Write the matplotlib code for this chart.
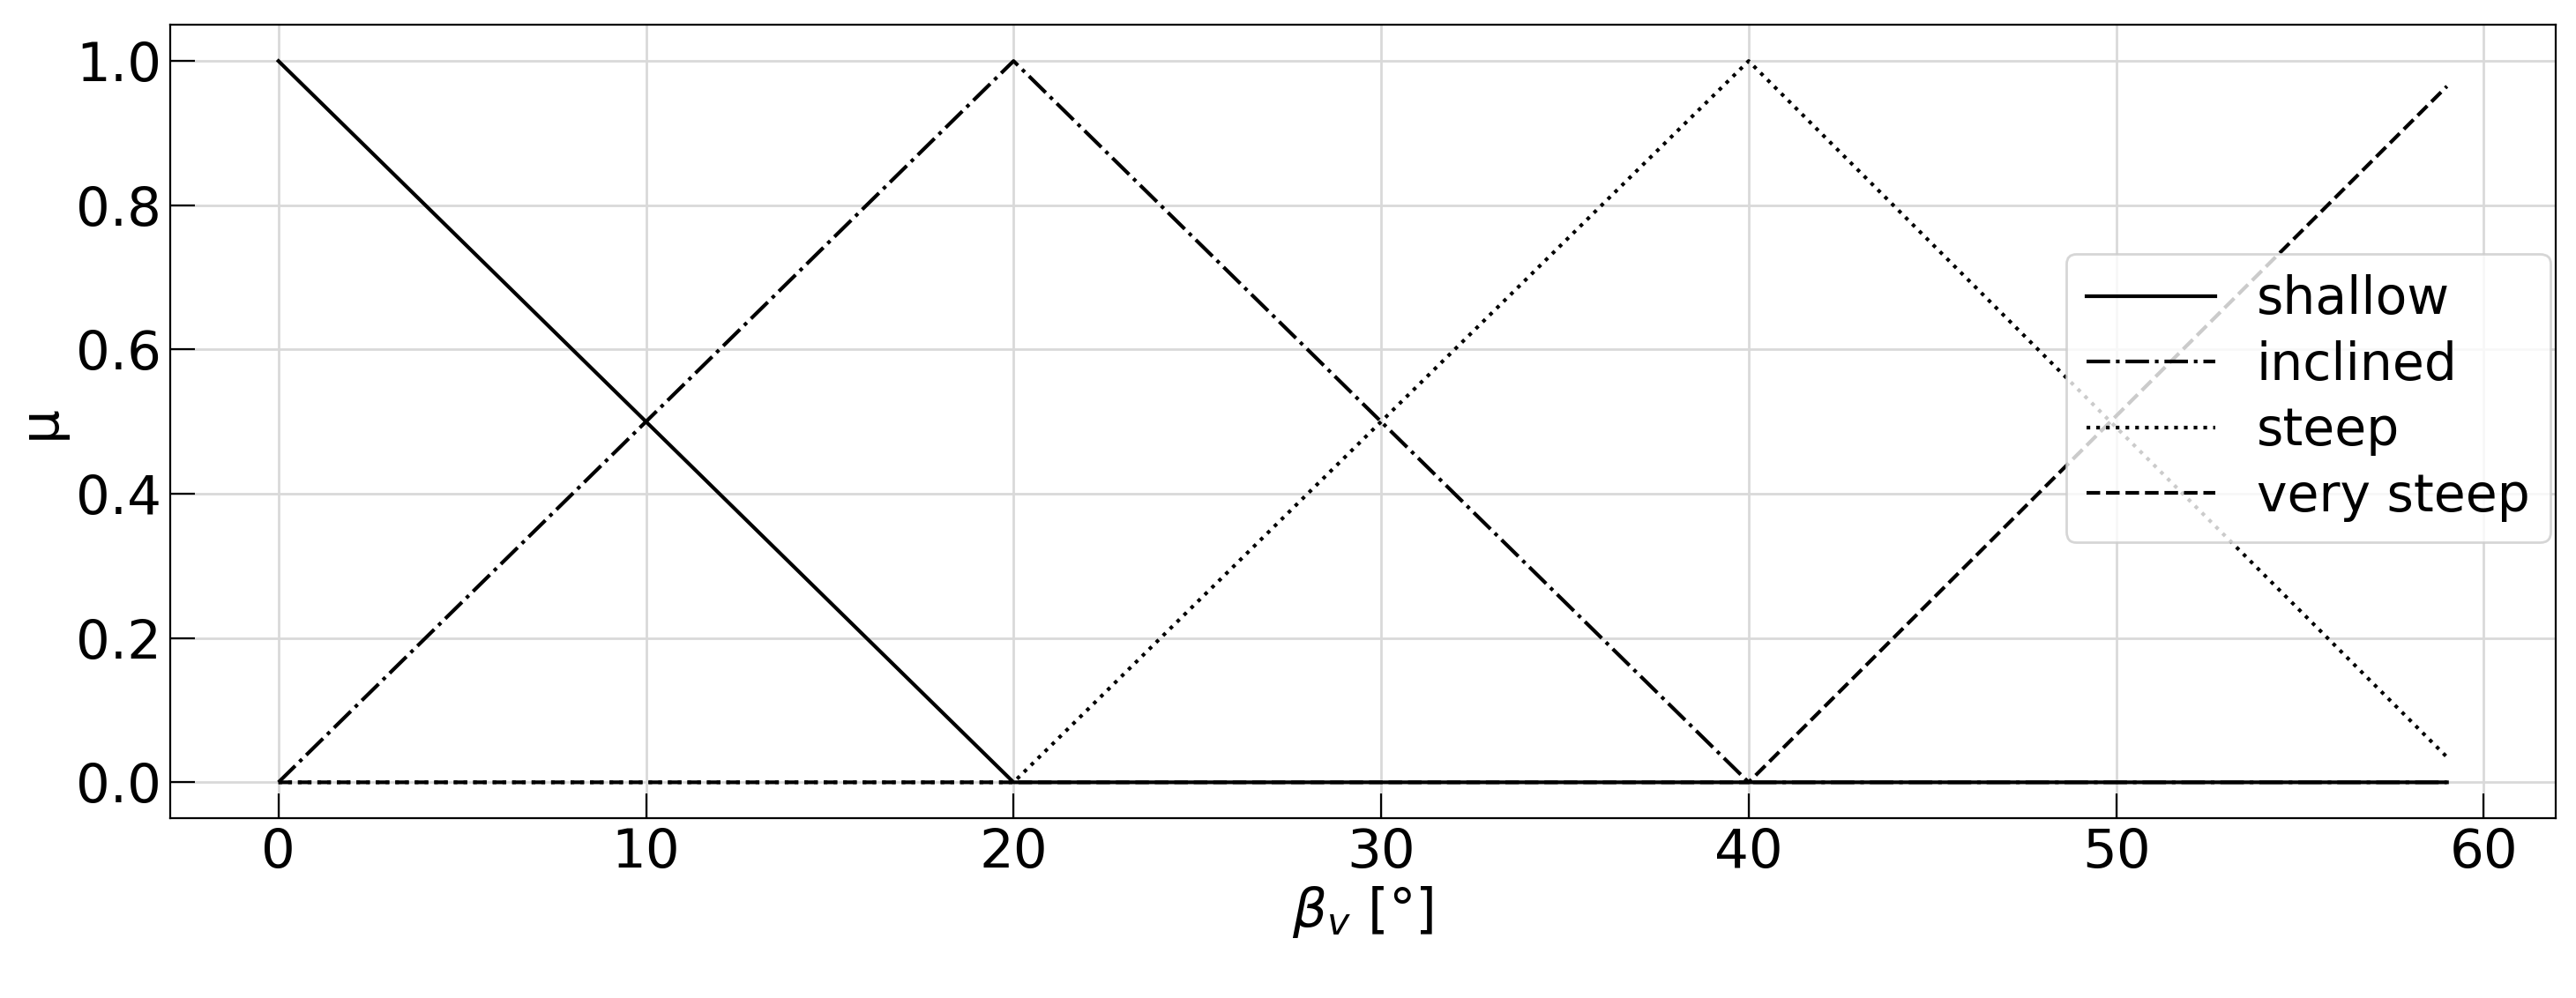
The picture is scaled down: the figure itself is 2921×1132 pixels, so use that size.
import numpy as np
import matplotlib.pyplot as plt

# breakpoints of the membership functions
beta = [0, 20, 40, 59]
shallow = [1.0, 0.0, 0.0, 0.0]
inclined = [0.0, 1.0, 0.0, 0.0]
steep = [0.0, 0.0, 1.0, 0.035]
very_steep = [0.0, 0.0, 0.0, 0.965]

fig, ax = plt.subplots(figsize=(14.605, 5.66), dpi=200)
fig.subplots_adjust(left=0.066, right=0.992, top=0.975, bottom=0.18)

ax.plot(beta, shallow, color='black', linestyle='-', linewidth=1.5, label='shallow')
ax.plot(beta, inclined, color='black', linestyle='-.', linewidth=1.5, label='inclined')
ax.plot(beta, steep, color='black', linestyle=':', linewidth=1.5, label='steep')
ax.plot(beta, very_steep, color='black', linestyle='--', linewidth=1.5, label='very steep')

ax.set_xlim(-2.95, 61.95)
ax.set_ylim(-0.05, 1.05)
ax.set_xticks(range(0, 61, 10))
ax.set_yticks(np.arange(0, 1.01, 0.2))
ax.grid(True, color='#d9d9d9', linewidth=1)
ax.tick_params(direction='in', length=10, labelsize=22)
ax.set_xlabel(r'$\beta_v$ [°]', fontsize=22, labelpad=2)
ax.set_ylabel('µ', fontsize=22)
ax.legend(fontsize=21, loc='center right', bbox_to_anchor=(1.0, 0.53),
          handlelength=2.5, borderaxespad=0.1, labelspacing=0.3)

fig.savefig('out.png')
